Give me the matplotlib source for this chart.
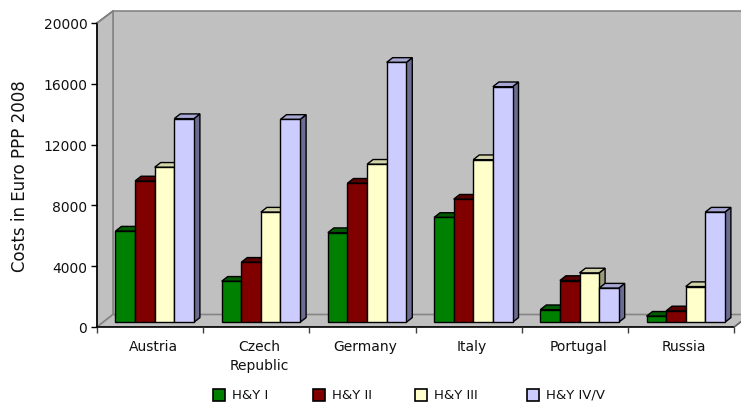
import matplotlib
matplotlib.use("Agg")
import matplotlib.pyplot as plt
from matplotlib.patches import Polygon, Rectangle

# ---- data -------------------------------------------------------------
countries = ["Austria", "Czech\nRepublic", "Germany", "Italy", "Portugal", "Russia"]
stages = ["H&Y I", "H&Y II", "H&Y III", "H&Y IV/V"]
hy_1 = [6000, 2700, 5900, 6900, 830, 400]
hy_2 = [9300, 3950, 9150, 8100, 2750, 750]
hy_3 = [10200, 7250, 10400, 10700, 3250, 2350]
hy_45 = [13400, 13350, 17100, 15500, 2250, 7250]
yticks = [0, 4000, 8000, 12000, 16000, 20000]
series = [hy_1, hy_2, hy_3, hy_45]

# face colours: front, top, side
front_c = ["#008000", "#800000", "#ffffcc", "#ccccff"]
top_c = ["#005a00", "#5a0000", "#d4d4aa", "#a8a8d6"]
side_c = ["#003c00", "#3c0000", "#9a9a7c", "#6c6c92"]

plt.rcParams["font.family"] = ["DejaVu Sans"]

W, H = 741, 406
fig = plt.figure(figsize=(W / 100, H / 100), dpi=100)
px_l, px_r, px_b, px_t = 97, 741, 328, 12
ax = fig.add_axes([px_l / W, (H - px_b) / H, (px_r - px_l) / W, (px_b - px_t) / H])

cat_px = 106.2            # pixels per category
v_per_px = 20000 / 304    # value units per pixel
xmax = (px_r - px_l) / cat_px
ymax = (px_b - px_t) * v_per_px
ax.set_xlim(0, xmax)
ax.set_ylim(0, ymax)


def dx(p):
    return p / cat_px


def dy(p):
    return p * v_per_px


n = len(countries)
wall_dx, wall_dy = dx(16), dy(12.5)
wall_col, wall_edge = "#c0c0c0", "#858585"

# back wall, left wall and floor
ax.add_patch(Polygon([(wall_dx, wall_dy), (xmax + 1, wall_dy), (xmax + 1, ymax),
                      (wall_dx, ymax)], closed=True, fc=wall_col, ec=wall_edge,
                     lw=1.2, zorder=0.5, clip_on=False))
ax.add_patch(Polygon([(0, 0), (wall_dx, wall_dy), (wall_dx, ymax), (0, 20000)],
                     closed=True, fc=wall_col, ec=wall_edge, lw=1.2, zorder=0.6,
                     clip_on=False))
ax.add_patch(Polygon([(0, 0), (n, 0), (n + wall_dx, wall_dy), (wall_dx, wall_dy)],
                     closed=True, fc=wall_col, ec=wall_edge, lw=1.2, zorder=0.7,
                     clip_on=True))

# front axis lines
ax.plot([0, n], [0, 0], color="black", lw=1.2, zorder=1, clip_on=False)
ax.plot([n, n + wall_dx], [0, wall_dy], color="#606060", lw=1.0, zorder=1)
ax.plot([0, 0], [0, 20000], color="black", lw=1.2, zorder=1, clip_on=False)
ax.plot([0, wall_dx], [20000, ymax], color="#808080", lw=1.2, zorder=1, clip_on=False)

# 3-D bars
bw = dx(19.6)
bar_dx, bar_dy = dx(6), dy(4.7)
base = bar_dy
lead = dx(18.5)
for i in range(n):
    for k, vals in enumerate(series):
        v = vals[i]
        xl = i + lead + k * bw
        tp = base + v
        z = 2 + i + k * 0.1
        ax.add_patch(Polygon([(xl + bw, base), (xl + bw + bar_dx, base + bar_dy),
                              (xl + bw + bar_dx, tp + bar_dy), (xl + bw, tp)],
                             closed=True, fc=side_c[k], ec="black", lw=1.0,
                             zorder=z))
        ax.add_patch(Polygon([(xl, tp), (xl + bw, tp), (xl + bw + bar_dx, tp + bar_dy),
                              (xl + bar_dx, tp + bar_dy)], closed=True,
                             fc=top_c[k], ec="black", lw=1.0, zorder=z + 0.01))
        ax.add_patch(Rectangle((xl, base), bw, v, fc=front_c[k], ec="black",
                               lw=1.0, zorder=z + 0.02))

# axes, ticks and labels
for s in ax.spines.values():
    s.set_visible(False)
ax.set_yticks(yticks)
ax.set_yticklabels([str(t) for t in yticks])
ax.tick_params(axis="y", length=4, width=1.0, pad=3, labelsize=10, color="black",
               labelcolor="#111111")
ax.set_xticks(range(n + 1))
ax.set_xticklabels([""] * (n + 1))
ax.tick_params(axis="x", which="major", length=4, width=1.0, color="#404040")
ax.set_xticks([i + 0.53 for i in range(n)], minor=True)
ax.set_xticklabels(countries, minor=True, fontsize=10, linespacing=1.45,
                   color="#111111")
ax.tick_params(axis="x", which="minor", length=0, pad=9)

fig.text(20 / W, 1 - 176 / H, "Costs in Euro PPP 2008", rotation=90,
         ha="center", va="center", fontsize=12, color="#111111")

# legend (entries spaced by their text widths)
leg_y = 395.5
leg_x = [213, 313, 415, 527]
for k, name in enumerate(stages):
    lx = leg_x[k]
    fig.patches.append(Rectangle((lx / W, 1 - (leg_y + 6) / H), 12 / W, 12 / H,
                                 transform=fig.transFigure, fc=front_c[k],
                                 ec="black", lw=1.2))
    fig.text((lx + 19) / W, 1 - leg_y / H, name, ha="left", va="center",
             fontsize=9.5, color="#111111")

fig.savefig("out.png", dpi=100)
